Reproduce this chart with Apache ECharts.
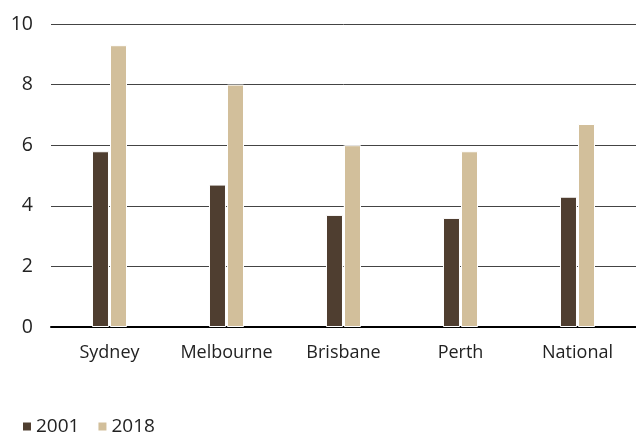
<!DOCTYPE html>
<html>
<head>
<meta charset="utf-8">
<script src="https://cdn.jsdelivr.net/npm/echarts@6/dist/echarts.min.js"></script>
<style>
  html, body { margin: 0; padding: 0; background: #fff; }
  #chart { width: 636px; height: 432px; }
</style>
</head>
<body>
<div id="chart"></div>
<script>
// Cities shown along the x axis
const cities = ['Sydney', 'Melbourne', 'Brisbane', 'Perth', 'National'];
// Values per year
const values2001 = [5.8, 4.7, 3.7, 3.6, 4.3];
const values2018 = [9.3, 8.0, 6.0, 5.8, 6.7];
const seriesNames = ['2001', '2018'];

const font = '"Open Sans", "Noto Sans", sans-serif';
const chart = echarts.init(document.getElementById('chart'), null, { renderer: 'canvas' });

chart.setOption({
  animation: false,
  backgroundColor: '#ffffff',
  grid: { left: 51, right: 0, top: 24, bottom: 105, containLabel: false },
  legend: {
    data: seriesNames,
    left: 16,
    top: 412,
    icon: 'rect',
    itemWidth: 10,
    itemHeight: 10,
    itemGap: 17,
    textStyle: { fontFamily: font, fontSize: 19, color: '#222', padding: [0, 0, 0, -1] }
  },
  xAxis: {
    type: 'category',
    data: cities,
    axisTick: { show: false },
    axisLine: { lineStyle: { color: '#000', width: 2 } },
    axisLabel: { interval: 0, fontFamily: font, fontSize: 18, color: '#222', margin: 17 }
  },
  yAxis: {
    type: 'value',
    min: 0,
    max: 10,
    interval: 2,
    axisLine: { show: false },
    axisTick: { show: false },
    splitLine: { lineStyle: { color: '#444', width: 1 } },
    axisLabel: { fontFamily: font, fontSize: 19.5, color: '#222', margin: 18 }
  },
  series: [
    {
      name: seriesNames[0],
      type: 'bar',
      data: values2001,
      barWidth: 17,
      barGap: '6%',
      itemStyle: { color: '#4f3e30', borderColor: '#fff', borderWidth: 1 }
    },
    {
      name: seriesNames[1],
      type: 'bar',
      data: values2018,
      barWidth: 17,
      itemStyle: { color: '#d2bf9b', borderColor: '#fff', borderWidth: 1 }
    }
  ]
});
</script>
</body>
</html>
